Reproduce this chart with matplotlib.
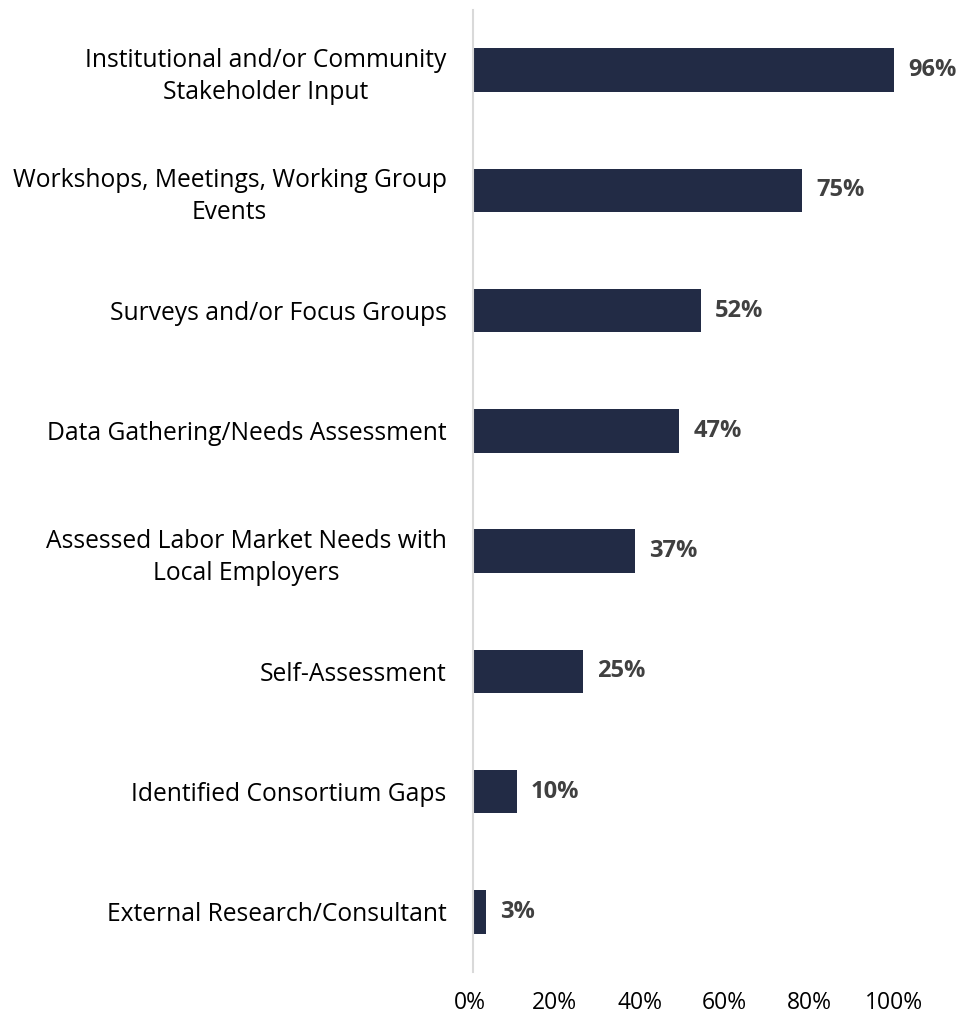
import matplotlib
matplotlib.use('Agg')
import matplotlib.pyplot as plt

plt.rcParams['font.family'] = ['Open Sans', 'DejaVu Sans']

categories = [
    'Institutional and/or Community\nStakeholder Input',
    'Workshops, Meetings, Working Group\nEvents',
    'Surveys and/or Focus Groups',
    'Data Gathering/Needs Assessment',
    'Assessed Labor Market Needs with\nLocal Employers',
    'Self-Assessment',
    'Identified Consortium Gaps',
    'External Research/Consultant',
]
values = [96, 75, 52, 47, 37, 25, 10, 3]
tick_values = [0, 20, 40, 60, 80, 100]

bar_color = '#222B45'
label_color = '#404040'

W, H = 964, 1021
fig = plt.figure(figsize=(W / 100, H / 100), dpi=100)
bottom = 1 - 972 / H
height = 962 / H
ax = fig.add_axes([473 / W, bottom, (940 - 473) / W, height])

pos = list(range(len(values)))
ax.barh(pos, values, height=0.36, color=bar_color)
ax.set_ylim(len(values) - 0.5, -0.5)
ax.set_xlim(0, 467 / 4.39)

for p, v in zip(pos, values):
    ax.annotate(f'{v}%', xy=(v, p), xytext=(10, 0), textcoords='offset points',
                va='center', ha='left', fontsize=17, fontweight='bold',
                color=label_color)

ax.set_yticks(pos)
ax.set_yticklabels(categories, fontsize=17.7, color='black', ha='right',
                   multialignment='center', linespacing=1.35)
ax.tick_params(axis='y', length=0, pad=19)
ax.set_xticks([])

for side in ['top', 'right', 'bottom']:
    ax.spines[side].set_visible(False)
ax.spines['left'].set_color('#D9D9D9')
ax.spines['left'].set_linewidth(1.5)

# percentage scale along the bottom
ax2 = fig.add_axes([470 / W, bottom, 424 / W, height])
ax2.patch.set_visible(False)
ax2.set_xlim(0, 100)
ax2.set_xticks(tick_values)
ax2.set_xticklabels([f'{t}%' for t in tick_values], fontsize=16.5, color='black')
ax2.tick_params(axis='x', length=0, pad=14)
ax2.set_yticks([])
for side in ['top', 'right', 'bottom', 'left']:
    ax2.spines[side].set_visible(False)

fig.savefig('out.png', dpi=100, facecolor='white')
